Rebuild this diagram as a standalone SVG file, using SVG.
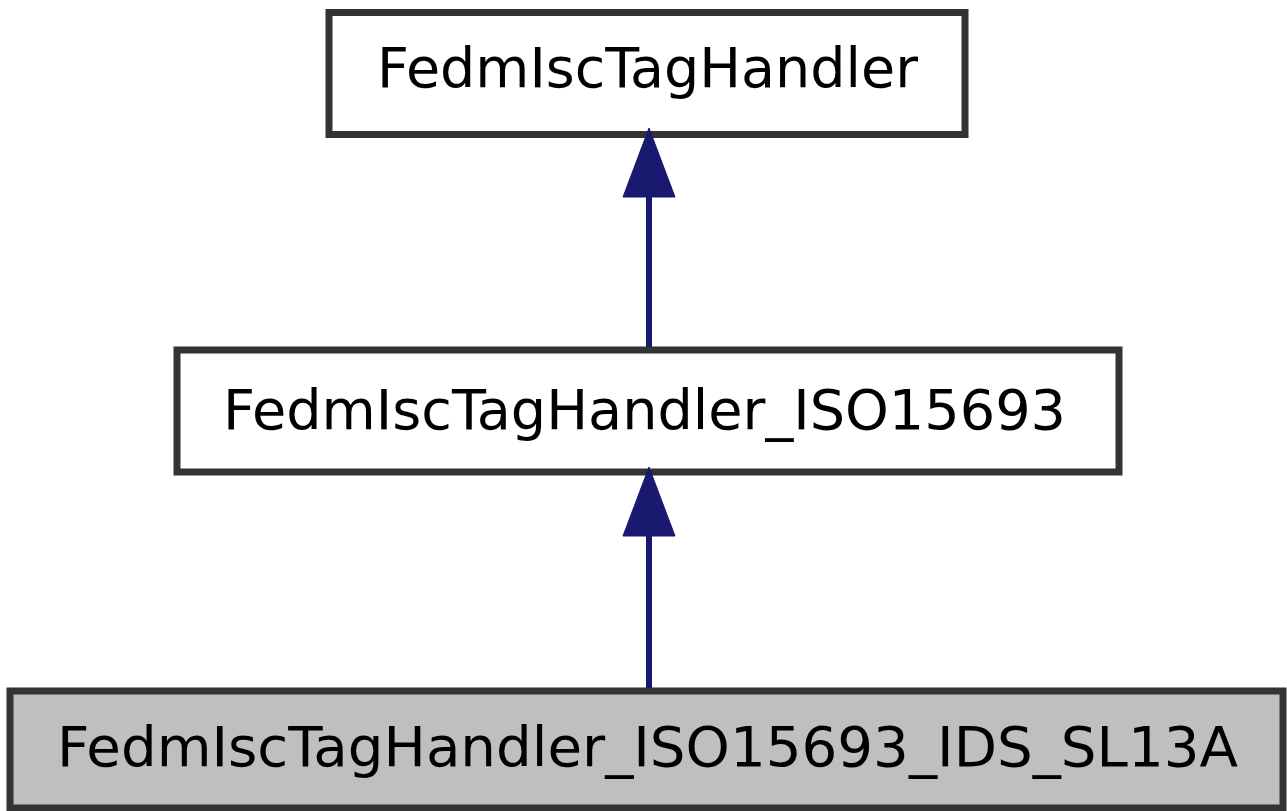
<svg xmlns="http://www.w3.org/2000/svg" width="1287" height="811" viewBox="0 0 1287 811">
<style>
.box{fill:#ffffff;stroke:#333333;stroke-width:7}
.cur{fill:#bfbfbf}
.lbl{font-family:"DejaVu Sans",sans-serif;font-size:55px;fill:#000000}
.edge{stroke:#191970;stroke-width:6;fill:none}
.head{fill:#191970;stroke:#191970;stroke-width:1}
</style>
<rect width="1287" height="811" fill="#ffffff"/>
<g id="node1">
<rect class="box" x="329" y="12.5" width="636" height="122"/>
<text class="lbl" x="377" y="87" textLength="541" lengthAdjust="spacingAndGlyphs">FedmIscTagHandler</text>
</g>
<g id="node2">
<rect class="box" x="177" y="350" width="942" height="122"/>
<text class="lbl" x="223" y="429" textLength="843" lengthAdjust="spacingAndGlyphs">FedmIscTagHandler_ISO15693</text>
</g>
<g id="node3">
<rect class="box cur" x="10" y="691" width="1273" height="117"/>
<text class="lbl" x="57" y="766" textLength="1181" lengthAdjust="spacingAndGlyphs">FedmIscTagHandler_ISO15693_IDS_SL13A</text>
</g>
<g id="connectors">
<line class="edge" x1="649" y1="347" x2="649" y2="196"/>
<polygon class="head" points="649,128 675,197 623,197"/>
<line class="edge" x1="649" y1="688" x2="649" y2="535"/>
<polygon class="head" points="649,467 675,536 623,536"/>
</g>
</svg>
